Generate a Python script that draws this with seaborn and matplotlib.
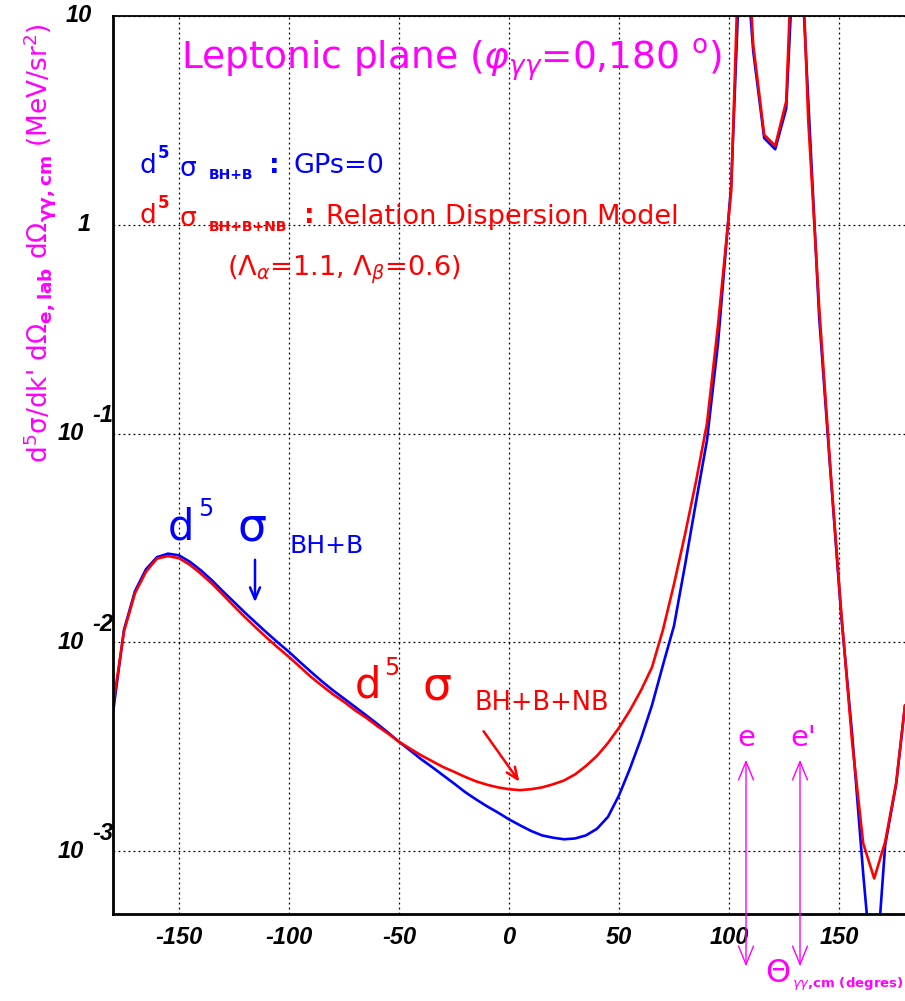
import numpy as np
import pandas as pd
import matplotlib
matplotlib.use("Agg")
import matplotlib.pyplot as plt
import matplotlib.transforms as mtransforms
from matplotlib.ticker import FixedLocator, LogLocator, NullFormatter, MultipleLocator
import seaborn as sns

# ---------------- data ----------------
theta = [-180, -175, -170, -165, -160, -155, -150, -145, -140, -135, -130, -125,
         -120, -115, -110, -105, -100, -95, -90, -85, -80, -75, -70, -65, -60,
         -55, -50, -45, -40, -35, -30, -25, -20, -15, -10, -5, 0, 5, 10, 15, 20,
         25, 30, 35, 40, 45, 50, 55, 60, 65, 70, 75, 80, 85, 90, 95,
         101, 106, 111, 116, 121, 126, 131, 136, 141, 146, 151, 156, 161, 166,
         171, 176, 180]

sigma_bh_b = [4.6e-3, 0.0115, 0.0176, 0.0224, 0.0256, 0.0266, 0.0261, 0.0243,
              0.0221, 0.0198, 0.01754, 0.0156, 0.01387, 0.0124, 0.0111, 0.00997,
              0.0090, 0.00805, 0.00722, 0.0065, 0.00589, 0.00538, 0.00491,
              0.00448, 0.00408, 0.0037, 0.00334, 0.00304, 0.00276, 0.00253,
              0.00231, 0.00211, 0.00192, 0.00177, 0.00164, 0.00153, 0.00142,
              0.00133, 0.00125, 0.00119, 0.00116, 0.00114, 0.00115, 0.00119,
              0.00128, 0.00146, 0.00185, 0.00249, 0.00346, 0.0050, 0.0078,
              0.0120, 0.0234, 0.047, 0.093, 0.27,
              1.55, 35.0, 6.8, 2.6, 2.3, 3.6, 45.0, 4.0, 0.36, 0.068, 0.0135,
              3.6e-3, 7.8e-4, 2.0e-4, 1.07e-3, 2.1e-3, 5.0e-3]

sigma_bh_b_nb = [5.0e-3, 0.0113, 0.0172, 0.0218, 0.0252, 0.0259, 0.0253, 0.0235,
                 0.0213, 0.0191, 0.0169, 0.0149, 0.0132, 0.01175, 0.0105, 0.00943,
                 0.00851, 0.00763, 0.00683, 0.0062, 0.00564, 0.00519, 0.00473,
                 0.00436, 0.00398, 0.00366, 0.00334, 0.0031, 0.00288, 0.0027,
                 0.00253, 0.0024, 0.00227, 0.00216, 0.00208, 0.00202, 0.00198,
                 0.00196, 0.00198, 0.00202, 0.00209, 0.00218, 0.00233, 0.00256,
                 0.00286, 0.0033, 0.0039, 0.00473, 0.00589, 0.0076, 0.0115,
                 0.0190, 0.0329, 0.059, 0.112, 0.33,
                 1.45, 69.0, 7.3, 2.7, 2.39, 3.9, 90.0, 3.2, 0.40, 0.070, 0.014,
                 3.3e-3, 1.09e-3, 7.4e-4, 1.11e-3, 2.13e-3, 5.0e-3]

x_tick_values = [-150, -100, -50, 0, 50, 100, 150]
x_tick_labels = ["-150", "-100", "-50", "0", "50", "100", "150"]
y_tick_values = [1e-3, 1e-2, 1e-1, 1, 10]
y_tick_bases = ["10", "10", "10", "1", "10"]
y_tick_exps = ["-3", "-2", "-1", "", ""]

df = pd.DataFrame({"theta": theta, "bh_b": sigma_bh_b, "bh_b_nb": sigma_bh_b_nb})

# ---------------- figure ----------------
sns.set_theme(style="white")
plt.rcParams["font.family"] = ["DejaVu Sans"]
plt.rcParams["mathtext.fontset"] = "dejavusans"

W, H = 905, 1001
fig = plt.figure(figsize=(W / 100, H / 100), dpi=100)
fig.patch.set_facecolor("white")
ax = fig.add_axes([113 / W, (H - 914) / H, (W - 113) / W, (914 - 16) / H])
ax.set_facecolor("white")

BLUE = "#0000ff"
RED = "#ff0000"
MAG = "#ff00ff"

sns.lineplot(data=df, x="theta", y="bh_b", ax=ax, color=BLUE, lw=1.9,
             estimator=None, sort=False)
sns.lineplot(data=df, x="theta", y="bh_b_nb", ax=ax, color=RED, lw=1.9,
             estimator=None, sort=False)

ax.set_yscale("log")
ax.set_xlim(-180, 180)
ax.set_ylim(5e-4, 10)
ax.set_xlabel("")
ax.set_ylabel("")

# ticks
ax.set_xticks(x_tick_values)
ax.set_xticklabels(x_tick_labels, fontfamily="Liberation Sans", fontweight="bold",
                   fontstyle="italic", fontsize=17)
ax.xaxis.set_minor_locator(MultipleLocator(10))
ax.yaxis.set_major_locator(FixedLocator(y_tick_values))
ax.yaxis.set_minor_locator(LogLocator(base=10, subs=range(2, 10), numticks=20))
ax.yaxis.set_major_formatter(NullFormatter())
ax.yaxis.set_minor_formatter(NullFormatter())
ax.tick_params(axis="both", which="major", direction="in", length=10, width=1.2,
               color="black", top=False, right=False)
ax.tick_params(axis="both", which="minor", direction="in", length=6, width=1.0,
               color="#333333", top=False, right=False)
ax.tick_params(axis="x", which="major", pad=9, labelcolor="black")

ax.grid(True, which="major", color="black", lw=0.9, ls=(0, (1.5, 2.5)))
for side in ["left", "bottom"]:
    ax.spines[side].set_color("black")
    ax.spines[side].set_linewidth(2.0)
ax.spines["top"].set_color("black")
ax.spines["top"].set_linewidth(1.3)
ax.spines["right"].set_visible(False)

# y tick labels in ROOT style
trans = mtransforms.blended_transform_factory(fig.transFigure, ax.transData)
trans_up = mtransforms.offset_copy(trans, fig=fig, y=18, units="dots")
for v, b, e in zip(y_tick_values, y_tick_bases, y_tick_exps):
    tkw = dict(fontfamily="Liberation Sans", fontweight="bold", fontstyle="italic",
               fontsize=17, color="black", va="center")
    if e:
        fig.text(84 / W, v, b, transform=trans, ha="right", **tkw)
        fig.text(92 / W, v, e, transform=trans_up, ha="left", **tkw)
    else:
        xr = 92 if b == "10" else 91
        fig.text(xr / W, v, b, transform=trans, ha="right", **tkw)


def ptext(x, y, s, **kw):
    kw.setdefault("ha", "center")
    kw.setdefault("va", "center")
    return fig.text(x / W, 1 - y / H, s, **kw)


# title
ptext(452, 60, r"Leptonic plane ($\varphi_{\gamma\gamma}$=0,180 $^{\rm o}$)",
      color=MAG, fontsize=27)

# legend lines
ptext(148, 166, "d", color=BLUE, fontsize=19)
ptext(163, 153, "5", color=BLUE, fontsize=12, fontweight="bold")
ptext(188, 169, "σ", color=BLUE, fontsize=19)
ptext(231, 175, "BH+B", color=BLUE, fontsize=10, fontweight="bold")
ptext(274, 166, ":", color=BLUE, fontsize=19, fontweight="bold")
ptext(293, 166, "GPs=0", color=BLUE, fontsize=19.5, ha="left")

ptext(148, 216, "d", color=RED, fontsize=19)
ptext(163, 203, "5", color=RED, fontsize=12, fontweight="bold")
ptext(188, 219, "σ", color=RED, fontsize=19)
ptext(248, 227, "BH+B+NB", color=RED, fontsize=10, fontweight="bold")
ptext(309, 216, ":", color=RED, fontsize=19, fontweight="bold")
ptext(326, 217, "Relation Dispersion Model", color=RED, fontsize=19.5, ha="left")
ptext(344, 270, r"($\Lambda_{\alpha}$=1.1, $\Lambda_{\beta}$=0.6)", color=RED,
      fontsize=19.5)

# big curve labels
ptext(181, 528, "d", color=BLUE, fontsize=30)
ptext(206, 509, "5", color=BLUE, fontsize=17)
ptext(252, 528, "σ", color=BLUE, fontsize=33)
ptext(327, 546, "BH+B", color=BLUE, fontsize=18)
ax.annotate("", xy=(255, H - 605), xytext=(255, H - 557), xycoords="figure pixels",
            textcoords="figure pixels",
            arrowprops=dict(arrowstyle="->,head_length=0.7,head_width=0.3",
                            color=BLUE, lw=1.8), annotation_clip=False)

ptext(368, 685, "d", color=RED, fontsize=30)
ptext(392, 668, "5", color=RED, fontsize=17)
ptext(437, 687, "σ", color=RED, fontsize=33)
ptext(542, 703, "BH+B+NB", color=RED, fontsize=18.5)
ax.annotate("", xy=(521, H - 784), xytext=(482, H - 729), xycoords="figure pixels",
            textcoords="figure pixels",
            arrowprops=dict(arrowstyle="->,head_length=0.7,head_width=0.3",
                            color=RED, lw=1.8), annotation_clip=False)

# e, e' arrows
for xp, lab in [(746, "e"), (800, "e'")]:
    ptext(xp + (3 if lab == "e'" else 0), 738, lab, color=MAG, fontsize=21)
    ax.annotate("", xy=(xp, H - 757), xytext=(xp, H - 969), xycoords="figure pixels",
                textcoords="figure pixels",
                arrowprops=dict(arrowstyle="<->,head_length=1.1,head_width=0.45",
                                color=MAG, lw=1.0), annotation_clip=False)

# axis titles
ptext(778, 973, r"$\Theta$", color=MAG, fontsize=23)
ptext(792, 984, r"$\gamma\gamma$,cm (degres)", color=MAG, fontsize=9.5,
      fontweight="bold", ha="left")

ptext(40, 243,
      r"d$^5$σ/dk' d$\Omega_{\mathbf{e,lab}}$ d$\Omega_{\mathbf{\gamma\gamma,cm}}$ (MeV/sr$^2$)",
      color=MAG, fontsize=19, rotation=90)

fig.savefig("out.png", dpi=100, facecolor="white")
